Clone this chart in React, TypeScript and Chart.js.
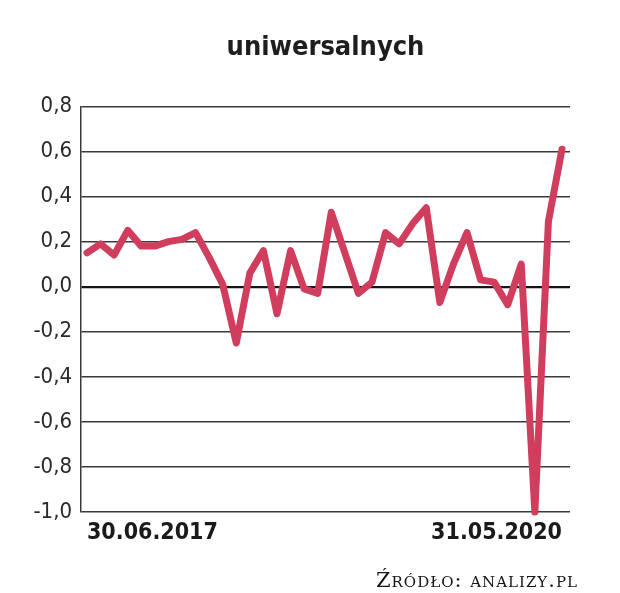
import React, { useEffect, useRef } from "react";
import { Chart, registerables } from "chart.js";

Chart.register(...registerables);

const title = "uniwersalnych";
const source = "Źródło: analizy.pl";

const months = [
  "06.2017", "07.2017", "08.2017", "09.2017", "10.2017", "11.2017",
  "12.2017", "01.2018", "02.2018", "03.2018", "04.2018", "05.2018",
  "06.2018", "07.2018", "08.2018", "09.2018", "10.2018", "11.2018",
  "12.2018", "01.2019", "02.2019", "03.2019", "04.2019", "05.2019",
  "06.2019", "07.2019", "08.2019", "09.2019", "10.2019", "11.2019",
  "12.2019", "01.2020", "02.2020", "03.2020", "04.2020", "05.2020",
];

const values = [
  0.15, 0.19, 0.14, 0.25, 0.18, 0.18,
  0.2, 0.21, 0.24, 0.13, 0.01, -0.25,
  0.06, 0.16, -0.12, 0.16, -0.01, -0.03,
  0.33, 0.15, -0.03, 0.02, 0.24, 0.19,
  0.28, 0.35, -0.07, 0.1, 0.24, 0.03,
  0.02, -0.08, 0.1, -1.0, 0.29, 0.61,
];

const xTickIndices = [0, 35];
const xTickLabels = ["30.06.2017", "31.05.2020"];

const yMin = -1.0;
const yMax = 0.8;
const yStep = 0.2;

const CONDENSED = "'DejaVu Sans Condensed', 'DejaVu Sans', sans-serif";

export default function App() {
  const ref = useRef<HTMLCanvasElement | null>(null);

  useEffect(() => {
    if (!ref.current) return;
    const points = values.map((v, i) => ({ x: i, y: v }));
    const chart = new Chart(ref.current, {
      type: "line",
      data: {
        labels: months,
        datasets: [
          {
            data: points,
            borderColor: "#d03d5d",
            borderWidth: 7,
            pointRadius: 0,
            tension: 0,
            borderJoinStyle: "round",
            borderCapStyle: "round",
            clip: false,
          } as any,
        ],
      },
      options: {
        animation: false,
        responsive: false,
        maintainAspectRatio: false,
        layout: { padding: { top: 0, left: 0, right: 50, bottom: 0 } },
        plugins: {
          legend: { display: false },
          tooltip: { enabled: false },
          title: {
            display: true,
            fullSize: false,
            text: title,
            color: "#1e1e1e",
            font: { family: CONDENSED, size: 27, weight: "bold" },
            padding: { top: 32, bottom: 42 },
          },
        },
        scales: {
          x: {
            type: "linear",
            min: -0.44,
            max: 35.59,
            grid: { display: false, drawTicks: false },
            border: { display: false },
            afterBuildTicks: (scale: any) => {
              scale.ticks = xTickIndices.map((v) => ({ value: v }));
            },
            afterFit: (scale: any) => {
              scale.height = 81;
            },
            ticks: {
              autoSkip: false,
              maxRotation: 0,
              align: "inner",
              padding: 7,
              color: "#1a1a1a",
              font: { family: CONDENSED, size: 23, weight: "bold" },
              callback: (v: any) => {
                const k = xTickIndices.indexOf(Number(v));
                return k >= 0 ? xTickLabels[k] : "";
              },
            },
          },
          y: {
            min: yMin,
            max: yMax,
            afterFit: (scale: any) => {
              scale.width = 81;
            },
            grid: {
              drawTicks: false,
              color: (ctx: any) => (ctx.tick && Math.abs(ctx.tick.value) < 1e-9 ? "#151515" : "#3a3a3a"),
              lineWidth: (ctx: any) => (ctx.tick && Math.abs(ctx.tick.value) < 1e-9 ? 2.2 : 1.4),
            },
            border: { display: true, color: "#3a3a3a", width: 1.5 },
            ticks: {
              stepSize: yStep,
              padding: 9,
              color: "#2a2a2a",
              font: { family: CONDENSED, size: 22 },
              callback: (v: any) => Number(v).toFixed(1).replace(".", ","),
            },
          },
        },
      } as any,
    });
    return () => chart.destroy();
  }, []);

  return (
    <div style={{ position: "fixed", left: 0, top: 0, width: 620, height: 593, background: "#fff" }}>
      <canvas ref={ref} width={620} height={593} style={{ display: "block" }} />
      <div
        style={{
          position: "absolute",
          right: 42,
          top: 569,
          fontFamily: "'DejaVu Serif', 'Liberation Serif', serif",
          fontVariant: "small-caps",
          fontSize: 21,
          lineHeight: "23px",
          color: "#151515",
          letterSpacing: 1.0,
          whiteSpace: "nowrap",
        }}
      >
        {source}
      </div>
    </div>
  );
}
